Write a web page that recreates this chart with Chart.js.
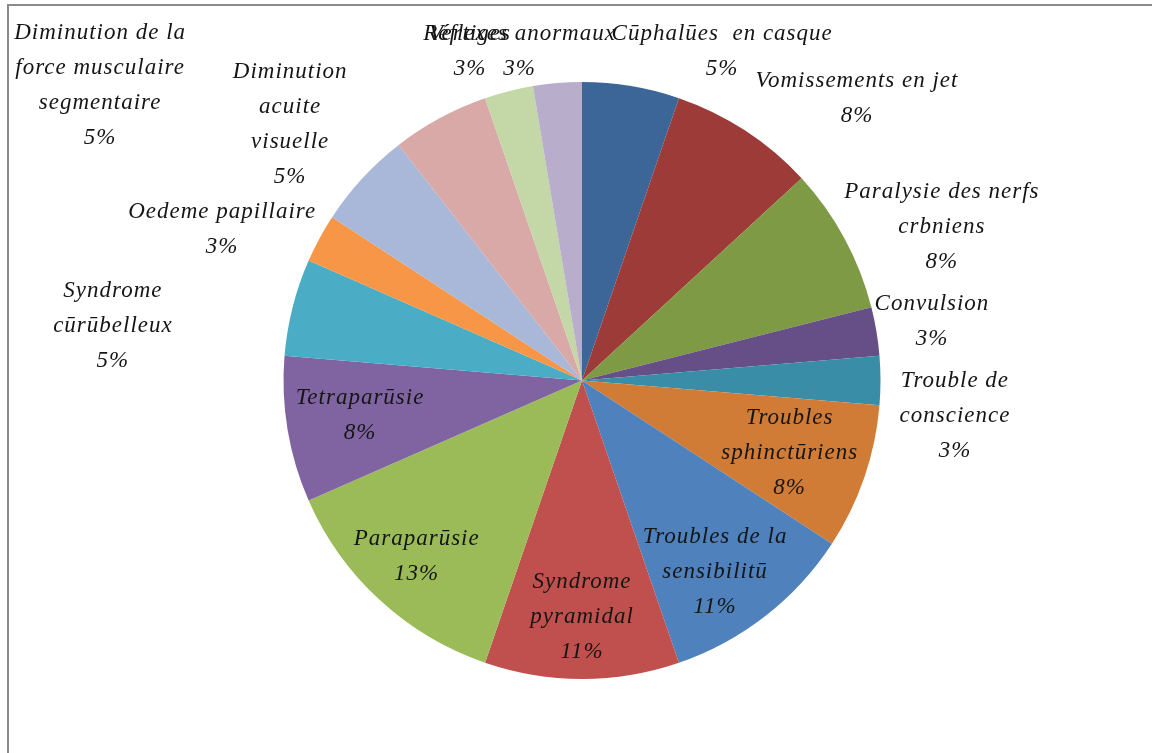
<!DOCTYPE html>
<html>
<head>
<meta charset="utf-8">
<script src="https://cdn.jsdelivr.net/npm/chart.js@4/dist/chart.umd.min.js"></script>
<style>
  html, body { margin: 0; padding: 0; background: #ffffff; }
  #wrap { width: 1152px; height: 753px; position: relative; }
</style>
</head>
<body>
<div id="wrap"><canvas id="chart" width="1152" height="753"></canvas></div>
<script>
// Symptom categories (line breaks mark the wrapped label lines)
const categories = [
  "Cūphalūes  en casque",
  "Vomissements en jet",
  "Paralysie des nerfs\ncrbniens",
  "Convulsion",
  "Trouble de\nconscience",
  "Troubles\nsphinctūriens",
  "Troubles de la\nsensibilitū",
  "Syndrome\npyramidal",
  "Paraparūsie",
  "Tetraparūsie",
  "Syndrome\ncūrūbelleux",
  "Oedeme papillaire",
  "Diminution\nacuite\nvisuelle",
  "Diminution de la\nforce musculaire\nsegmentaire",
  "Vertiges",
  "Réflexes anormaux"
];

// Number of patients per symptom
const counts = [2, 3, 3, 1, 1, 3, 4, 4, 5, 3, 2, 1, 2, 2, 1, 1];

const sliceColors = [
  "#3D6698", "#9C3B38", "#7E9A45", "#664E87", "#3A8DA6", "#D17C36",
  "#4F81BD", "#C0504D", "#9BBB59", "#8064A2", "#4BACC6", "#F79646",
  "#A9B8D9", "#D9A9A8", "#C4D7A7", "#B8AECC"
];

// Label placement: distance from centre as a fraction of the radius,
// and angular shift (degrees) from the middle of the slice
const labelRadius = [1.198, 1.32, 1.311, 1.189, 1.255, 0.737, 0.781, 0.792,
                     0.81, 0.753, 1.582, 1.308, 1.30, 1.893, 1.164, 1.122];
const labelShift  = [13.6, 11.1, 5.3, -0.1, 5.4, 0.3, 3.1, 0, 0.5, 0.4,
                     -7.6, -5.6, -1.4, -30.1, -4.6, -6.0];

const total = counts.reduce((a, b) => a + b, 0);

const framePlugin = {
  id: "frame",
  beforeDraw(chart) {
    const ctx = chart.ctx;
    ctx.save();
    ctx.fillStyle = "#ffffff";
    ctx.fillRect(0, 0, chart.width, chart.height);
    ctx.strokeStyle = "#8a8a8a";
    ctx.lineWidth = 2;
    ctx.beginPath();
    ctx.moveTo(8, chart.height + 5);
    ctx.lineTo(8, 5);
    ctx.lineTo(chart.width + 5, 5);
    ctx.stroke();
    ctx.restore();
  }
};

const labelPlugin = {
  id: "sliceLabels",
  afterDatasetsDraw(chart) {
    const ctx = chart.ctx;
    const meta = chart.getDatasetMeta(0);
    const lineH = 35;
    ctx.save();
    ctx.font = "italic 23px 'Liberation Serif'";
    if ("letterSpacing" in ctx) ctx.letterSpacing = "1px";
    ctx.fillStyle = "#151515";
    ctx.textAlign = "center";
    ctx.textBaseline = "middle";
    meta.data.forEach((arc, i) => {
      const p = arc.getProps(["x", "y", "startAngle", "endAngle", "outerRadius"], true);
      const a = (p.startAngle + p.endAngle) / 2 + labelShift[i] * Math.PI / 180;
      const r = p.outerRadius * labelRadius[i];
      const cx = p.x + Math.cos(a) * r;
      const cy = p.y + Math.sin(a) * r;
      const pct = Math.round(counts[i] / total * 100) + "%";
      const lines = categories[i].split("\n").concat([pct]);
      const top = cy - (lines.length - 1) * lineH / 2;
      lines.forEach((t, k) => ctx.fillText(t, cx, top + k * lineH));
    });
    ctx.restore();
  }
};

new Chart(document.getElementById("chart"), {
  type: "pie",
  data: {
    labels: categories,
    datasets: [{
      data: counts,
      backgroundColor: sliceColors,
      borderWidth: 0
    }]
  },
  options: {
    responsive: false,
    animation: false,
    layout: { padding: { top: 82, bottom: 74, left: 283.5, right: 271.5 } },
    plugins: {
      legend: { display: false },
      tooltip: { enabled: false },
      title: { display: false }
    }
  },
  plugins: [framePlugin, labelPlugin]
});
</script>
</body>
</html>
